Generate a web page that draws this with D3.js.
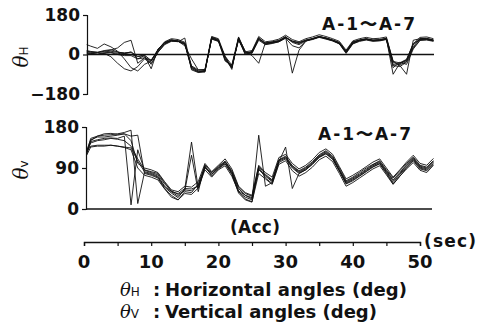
<!DOCTYPE html>
<html><head><meta charset="utf-8">
<script src="https://cdn.jsdelivr.net/npm/d3@7"></script>
<style>
html,body{margin:0;padding:0;background:#fff;}
svg{display:block;}
text{font-family:"DejaVu Sans","Liberation Sans",Arial,sans-serif;font-weight:bold;fill:#111;}
</style></head>
<body>
<svg id="c" width="478" height="327"></svg>
<script>
// ---- data ----
const times = [0.4,1,2,3,4,5,6,7,8,9,10,11,12,13,14,15,16,17,18,19,20,21,22,23,24,25,26,27,28,29,30,31,32,33,34,35,36,37,38,39,40,41,42,43,44,45,46,47,48,49,50,51,52];
const hSeries = [
 [45,38,28,48,35,15,-20,-60,-75,-45,-30,20,55,68,60,48,-55,-75,-78,78,62,-10,-60,75,0,8,72,52,58,64,82,55,45,62,70,80,76,66,55,15,58,66,72,66,68,74,-35,-48,-32,35,72,74,66],
 [5,5,0,5,-10,-40,-65,-75,-55,-20,-40,10,48,62,63,52,-62,-80,-76,76,66,-20,-62,70,8,12,78,48,54,60,78,62,52,66,73,83,74,64,50,10,52,64,70,64,65,70,-45,-42,-28,45,68,70,64],
 [12,10,8,15,20,30,55,65,-40,-15,-30,15,50,64,62,50,-58,-76,-74,74,64,-18,-55,72,5,10,74,50,56,63,80,-85,20,60,72,82,75,65,52,12,55,65,70,65,66,72,-90,-40,-25,50,70,71,65],
 [8,6,2,8,10,5,5,0,-10,-5,-65,25,52,66,60,46,-65,-80,-72,72,60,-10,-68,78,15,-5,-40,55,55,60,78,60,55,65,72,80,74,66,54,14,56,66,71,64,67,73,-30,-50,-90,65,72,72,66],
 [18,14,10,18,22,12,4,12,-8,-2,-28,22,58,72,68,56,-52,-70,-68,82,72,-8,-48,80,12,18,82,58,62,70,88,68,58,72,80,90,82,72,60,20,62,72,78,72,74,80,-32,-38,-22,48,78,80,72],
 [0,2,0,5,8,0,-5,-5,-20,-15,-25,20,55,62,58,75,-70,-82,-80,80,68,-25,-58,68,0,15,70,46,52,58,76,58,50,64,70,80,72,62,50,8,50,62,68,62,64,70,-50,-55,-35,30,66,68,62],
 [15,12,10,12,15,10,8,10,-20,-5,-45,10,45,60,60,40,-20,-70,-70,70,60,-30,-50,66,10,5,65,45,50,58,74,40,30,62,68,78,70,62,48,5,48,60,66,60,62,68,-60,-35,-45,25,64,66,60]
];
const vSeries = [
 [118,136,138,138,140,138,136,134,105,82,78,72,50,38,28,42,40,52,92,76,90,103,80,40,30,22,88,72,60,105,112,92,80,88,100,115,124,112,85,58,66,75,85,95,102,82,62,78,95,110,92,88,103],
 [122,148,152,155,156,155,160,9,130,85,80,75,55,40,32,40,118,38,97,80,92,104,82,45,30,25,86,74,62,107,114,94,82,90,102,117,126,114,86,60,68,77,87,97,104,84,64,80,97,112,94,90,105],
 [125,155,160,162,163,165,168,173,12,80,76,70,48,35,25,44,147,45,92,76,90,100,78,38,26,20,162,50,58,104,136,45,78,86,98,114,122,110,84,56,64,73,83,93,100,80,58,76,92,108,90,86,100],
 [128,152,158,158,160,162,165,160,162,78,74,68,45,30,20,38,36,55,95,72,88,99,76,35,20,15,92,68,56,102,110,90,78,86,99,113,121,109,83,55,62,72,82,92,99,78,55,72,90,106,88,84,98],
 [120,150,160,165,166,164,165,150,100,90,86,80,60,42,38,50,48,60,100,82,96,110,88,50,36,30,96,80,70,113,120,100,88,96,108,124,132,120,93,66,74,83,93,103,110,90,70,86,103,118,100,96,111],
 [124,145,150,152,155,153,150,138,110,86,82,78,58,38,34,45,44,50,90,80,94,105,84,48,34,28,94,76,64,108,116,95,84,92,104,119,128,116,90,62,70,80,90,98,106,86,68,84,100,114,96,92,106],
 [126,138,140,140,140,138,135,130,90,74,70,64,44,26,20,34,32,46,86,70,86,95,72,38,22,16,78,66,54,98,106,84,72,80,92,108,116,104,78,50,58,68,78,88,95,75,54,72,88,102,85,80,96]
];
const hTicks = [180,0,-180];
const vTicks = [180,90,0];
const xTicks = [0,5,10,15,20,25,30,35,40,45,50];
const xLabels = [0,10,20,30,40,50];
const seriesLabel = "A-1〜A-7";

// ---- drawing ----
const svg = d3.select("#c");
const x = d3.scaleLinear().domain([0,50]).range([84,420]);
const yH = d3.scaleLinear().domain([-180,180]).range([94,15]);
const yV = d3.scaleLinear().domain([0,180]).range([209,127]);

function panel(y, series, ticks, axisX, baseVal, endX){
  svg.append("line").attr("x1",axisX).attr("x2",endX)
    .attr("y1",y(baseVal)).attr("y2",y(baseVal))
    .attr("stroke","#111").attr("stroke-width",1.6);
  const ax = svg.append("g").attr("transform",`translate(${axisX},0)`)
    .call(d3.axisLeft(y).tickValues(ticks).tickSize(4).tickPadding(3)
      .tickFormat(d=> d<0 ? "\u2212"+Math.abs(d) : d));
  ax.select(".domain").attr("stroke","#111").attr("stroke-width",1.2);
  ax.selectAll(".tick line").attr("stroke","#111").attr("stroke-width",1.2);
  ax.selectAll(".tick text").attr("font-size",17).attr("font-family","Liberation Sans, Arial, sans-serif")
    .attr("font-weight","bold").attr("fill","#111");
  const line = d3.line().x((d,i)=>x(times[i])).y(d=>y(d));
  svg.append("g").selectAll("path").data(series).join("path")
    .attr("d",line).attr("fill","none").attr("stroke","#111")
    .attr("stroke-width",0.9).attr("stroke-linejoin","round");
}
panel(yH, hSeries, hTicks, 87, 0, 434);
panel(yV, vSeries, vTicks, 86, 0, 432);

// series labels
svg.append("text").attr("x",322).attr("y",30).attr("font-size",17)
  .attr("textLength",93).attr("lengthAdjust","spacing").text(seriesLabel);
svg.append("text").attr("x",318).attr("y",140).attr("font-size",17)
  .attr("textLength",93).attr("lengthAdjust","spacing").text(seriesLabel);

// rotated axis titles
function axTitle(cx, cy, sub){
  const t = svg.append("text").attr("transform",`translate(${cx},${cy}) rotate(-90)`)
    .attr("text-anchor","middle");
  t.append("tspan").attr("font-family","DejaVu Serif, serif").attr("font-style","italic")
    .attr("font-weight","normal").attr("font-size",20).text("θ");
  t.append("tspan").attr("font-size",12).attr("font-weight","normal").text(sub);
}
axTitle(28, 57, "H");
axTitle(28, 170, "v");

// time axis
const xa = svg.append("g").attr("transform","translate(0,242)")
  .call(d3.axisBottom(x).tickValues(xTicks).tickSize(4).tickFormat(""));
xa.select(".domain").attr("stroke","#111").attr("stroke-width",1.4);
xa.selectAll(".tick line").attr("stroke","#111").attr("stroke-width",1.2);
svg.append("g").selectAll("text").data(xLabels).join("text")
  .attr("x",d=>x(d)).attr("y",268).attr("text-anchor","middle")
  .attr("font-family","Liberation Sans, Arial, sans-serif")
  .attr("font-size",18).text(d=>d);
svg.append("text").attr("x",424).attr("y",247).attr("font-size",17)
  .attr("textLength",52).attr("lengthAdjust","spacing").text("(sec)");
svg.append("text").attr("x",230).attr("y",233).attr("font-size",17)
  .attr("textLength",50).attr("lengthAdjust","spacing").text("(Acc)");

// legend
function legend(y, sub, label, len){
  const t = svg.append("text").attr("x",120).attr("y",y);
  t.append("tspan").attr("font-family","DejaVu Serif, serif").attr("font-style","italic")
    .attr("font-weight","normal").attr("font-size",18).text("θ");
  t.append("tspan").attr("font-size",12).attr("font-weight","normal").text(sub);
  svg.append("text").attr("x",153).attr("y",y).attr("font-size",18).text(":");
  svg.append("text").attr("x",165).attr("y",y).attr("font-size",18)
    .attr("textLength",len).attr("lengthAdjust","spacing").text(label);
}
legend(296, "H", "Horizontal angles (deg)", 242);
legend(318, "V", "Vertical angles (deg)", 212);
</script>
</body></html>
